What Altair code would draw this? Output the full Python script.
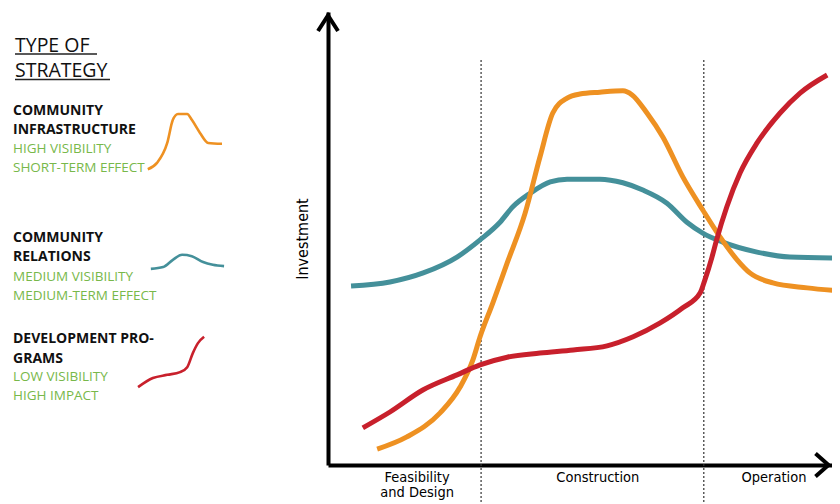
import altair as alt
import pandas as pd

# ---- main curves: x = project timeline (0-100), y = investment (0-100)
infra_x = [9.6, 15.4, 21.9, 25.8, 28.3, 29.7, 32.2, 35.0, 38.5, 41.4, 43.9, 46.7, 49.2,
           53.1, 57.6, 59.4, 62.3, 65.4, 69.3, 73.2, 76.6, 79.9, 82.4, 86.9, 93.6, 100]
infra_y = [3.5, 6.2, 11.5, 17.2, 23.2, 28.3, 35.8, 44.6, 55.6, 68.0, 77.7, 81.0, 81.9,
           82.3, 82.6, 81.7, 77.7, 72.4, 63.6, 56.3, 50.3, 45.3, 42.4, 40.2, 39.1, 38.4]

rel_x = [4.5, 12.1, 18.6, 25.2, 29.7, 33.6, 36.1, 39.5, 43.4, 46.7, 53.1, 57.6, 61.5,
         66.2, 70.1, 73.2, 77.1, 83.8, 90.2, 100]
rel_y = [39.5, 40.4, 42.4, 45.9, 49.7, 53.6, 57.0, 60.0, 62.5, 63.1, 63.1, 62.3, 60.7,
         57.8, 53.6, 51.2, 49.2, 47.0, 45.9, 45.7]

dev_x = [6.8, 12.1, 18.6, 25.2, 29.7, 35.0, 41.4, 47.9, 54.5, 59.6, 64.8, 69.3, 72.7,
         73.6, 75.0, 75.9, 77.9, 80.5, 83.8, 88.3, 92.2, 97.5]
dev_y = [8.2, 11.7, 16.6, 19.9, 22.1, 23.8, 24.7, 25.4, 26.3, 28.3, 31.3, 34.7, 38.0,
         40.8, 45.9, 49.7, 57.0, 64.5, 71.1, 77.7, 82.1, 86.1]

# ---- small legend glyphs (same units, left of the axis)
infra_leg_x = [-35.2, -33.4, -31.4, -30.3, -29.3, -27.5, -26.6, -25.0, -23.4, -20.7]
infra_leg_y = [65.3, 66.7, 71.1, 76.2, 77.5, 77.5, 76.2, 73.3, 71.1, 70.9]
rel_leg_x = [-34.6, -32.2, -30.3, -28.5, -26.6, -24.4, -22.5, -20.3]
rel_leg_y = [43.3, 43.7, 45.3, 46.4, 46.1, 44.8, 44.2, 43.9]
dev_leg_x = [-37.1, -34.2, -31.4, -28.9, -27.5, -26.4, -25.4, -24.2]
dev_leg_y = [17.2, 19.2, 19.9, 20.5, 21.6, 24.7, 26.9, 28.3]

series = ["Community Infrastructure", "Community Relations", "Development Programs"]
colors = ["#EE9122", "#44909A", "#C8202C"]

# ---- axes extent (the visible window ends slightly before x = 100)
x_end = 98.44

# ---- phases
phase_bounds = [29.9, 73.4]
phase_line_top = 89.4
phase_line_bottom = -8.6
phase_labels = ["Feasibility\nand Design", "Construction", "Operation"]
phase_label_x = [17.4, 52.7, 87.1]

# ---- legend texts
header_lines = ["TYPE OF", "STRATEGY"]
infra_title = ["COMMUNITY", "INFRASTRUCTURE"]
infra_desc = ["HIGH VISIBILITY", "SHORT-TERM EFFECT"]
rel_title = ["COMMUNITY", "RELATIONS"]
rel_desc = ["MEDIUM VISIBILITY", "MEDIUM-TERM EFFECT"]
dev_title = ["DEVELOPMENT PRO-", "GRAMS"]
dev_desc = ["LOW VISIBILITY", "HIGH IMPACT"]

GREEN = "#78B84A"
NARROW = "Liberation Sans Narrow, DejaVu Sans Condensed, sans-serif"
LEGEND_FONT = "Open Sans, sans-serif"

rows = []
for name, xs, ys in [(series[0], infra_x, infra_y), (series[1], rel_x, rel_y),
                     (series[2], dev_x, dev_y)]:
    rows += [{"series": name, "x": a, "y": b} for a, b in zip(xs, ys)]
curves = pd.DataFrame(rows)

lrows = []
for name, xs, ys in [(series[0], infra_leg_x, infra_leg_y), (series[1], rel_leg_x, rel_leg_y),
                     (series[2], dev_leg_x, dev_leg_y)]:
    lrows += [{"series": name, "x": a, "y": b} for a, b in zip(xs, ys)]
glyphs = pd.DataFrame(lrows)

X = alt.X("x:Q", scale=alt.Scale(domain=[0, x_end], nice=False, zero=False), title=None)
Y = alt.Y("y:Q", scale=alt.Scale(domain=[0, 100], nice=False, zero=False),
          axis=alt.Axis(title="Investment", titleFont=NARROW, titleFontSize=16,
                        titleFontWeight="normal", titleColor="black", titlePadding=18))
C = alt.Color("series:N", scale=alt.Scale(domain=series, range=colors), legend=None)

layers = []

# dotted phase boundaries
rules_df = pd.DataFrame({"x": phase_bounds, "y": [phase_line_top] * 2,
                         "y2": [phase_line_bottom] * 2})
layers.append(alt.Chart(rules_df).mark_rule(color="#333333", strokeWidth=1.2,
                                            strokeDash=[2, 2]).encode(x=X, y=Y, y2="y2:Q"))

# main curves (teal, orange, red order)
for name in [series[1], series[0], series[2]]:
    layers.append(alt.Chart(curves).transform_filter(alt.datum.series == name)
                  .mark_line(strokeWidth=5, interpolate="monotone")
                  .encode(x=X, y=Y, color=C))

# legend glyph curves
for name in series:
    layers.append(alt.Chart(glyphs).transform_filter(alt.datum.series == name)
                  .mark_line(strokeWidth=2.6, interpolate="monotone")
                  .encode(x=X, y=Y, color=C))

# axis arrowheads
up_df = pd.DataFrame({"x": [0], "y": [100]})
right_df = pd.DataFrame({"x": [x_end], "y": [0]})
layers.append(alt.Chart(up_df).mark_point(shape="M-1,1.9L0,0.35L1,1.9", size=400, filled=False,
                                          stroke="black", strokeWidth=4, opacity=1,
                                          strokeJoin="miter").encode(x=X, y=Y))
layers.append(alt.Chart(right_df).mark_point(shape="M-1.65,-1.15L-0.35,0L-1.65,1.15", size=400,
                                             filled=False, stroke="black", strokeWidth=4,
                                             opacity=1, strokeJoin="miter").encode(x=X, y=Y))

# phase labels
phase_df = pd.DataFrame({"x": phase_label_x, "label": phase_labels})
layers.append(alt.Chart(phase_df).mark_text(font=NARROW, fontSize=14.5, baseline="top",
                                            lineBreak="\n", lineHeight=15, color="black")
              .encode(x=X, y=alt.value(459), text="label:N"))

# legend texts
dummy = pd.DataFrame({"k": [0]})


def txt(lines, x, y, size, color, weight, lh, font=LEGEND_FONT):
    return alt.Chart(dummy).mark_text(font=font, fontSize=size, fontWeight=weight, color=color,
                                      align="left", baseline="alphabetic", lineHeight=lh).encode(
        x=alt.value(x), y=alt.value(y), text=alt.value(lines))


layers.append(txt(header_lines, -313, 40, 19.5, "#111111", "normal", 25))
layers.append(txt(infra_title, -315, 103, 14, "#111111", "bold", 19.3))
layers.append(txt(infra_desc, -315, 141, 13.5, GREEN, "normal", 19.3))
layers.append(txt(rel_title, -315, 229.7, 14, "#111111", "bold", 19.3))
layers.append(txt(rel_desc, -315, 269, 13.5, GREEN, "normal", 19.3))
layers.append(txt(dev_title, -315, 331.3, 14, "#111111", "bold", 19.3))
layers.append(txt(dev_desc, -315, 369, 13.5, GREEN, "normal", 19.3))

# header underlines
layers.append(alt.Chart(dummy).mark_rule(color="#222222", strokeWidth=1.3).encode(
    x=alt.value(-313), x2=alt.value(-231), y=alt.value(42)))
layers.append(alt.Chart(dummy).mark_rule(color="#222222", strokeWidth=1.3).encode(
    x=alt.value(-313), x2=alt.value(-218), y=alt.value(67.5)))

chart = alt.layer(*layers).properties(
    width=504, height=453,
    padding={"left": 320, "top": 4, "right": 0, "bottom": 39},
    autosize=alt.AutoSizeParams(type="none"),
).configure_view(stroke=None).configure_axis(
    domainColor="black", domainWidth=4, grid=False, ticks=False, labels=False,
)

chart.save("out.html", embed_options={"renderer": "svg", "actions": False})
